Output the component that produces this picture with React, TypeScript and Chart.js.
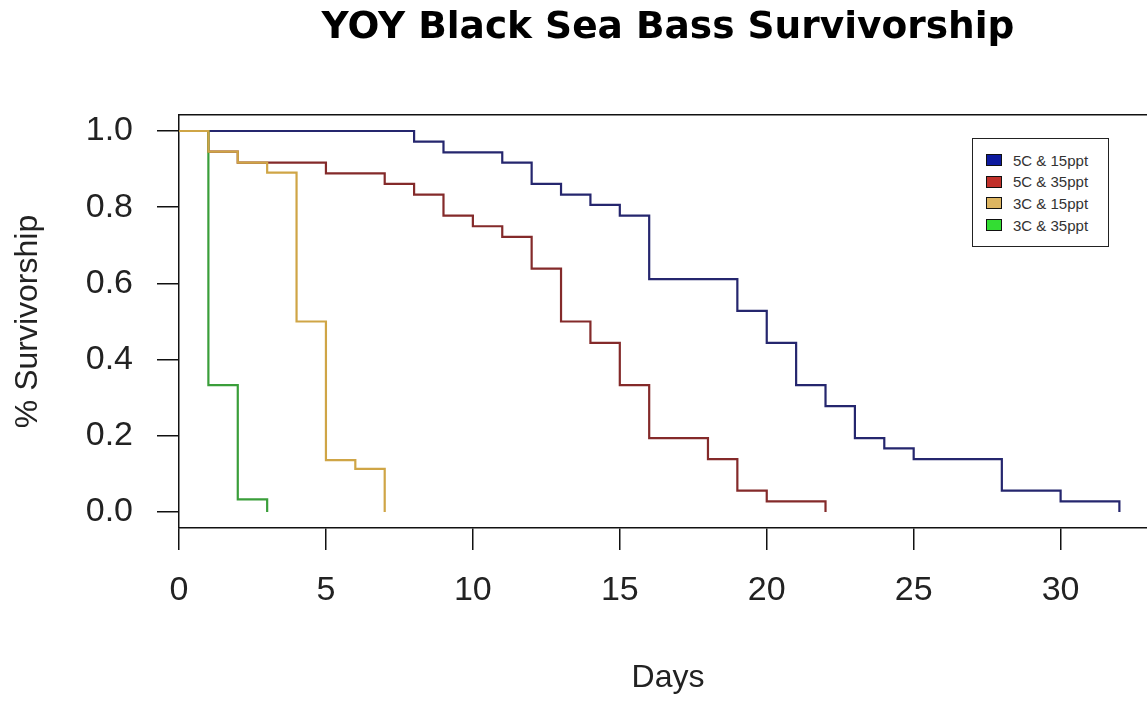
import React, { useEffect, useRef } from "react";
import { Chart, registerables } from "chart.js";

Chart.register(...registerables);

const TITLE = "YOY Black Sea Bass Survivorship";
const X_TITLE = "Days";
const Y_TITLE = "% Survivorship";

const SERIES_LABELS = ["5C & 15ppt", "5C & 35ppt", "3C & 15ppt", "3C & 35ppt"];
const LINE_COLORS = ["#25266e", "#842a2a", "#cfa546", "#3a9e3a"];
const KEY_COLORS = ["#0d1a9e", "#c0302a", "#ddb561", "#33dd33"];
const DRAW_ORDER = [2, 3, 0, 1];

const X_TICKS = [0, 5, 10, 15, 20, 25, 30];
const Y_TICKS = [0, 0.2, 0.4, 0.6, 0.8, 1.0];

// 5C & 15ppt
const DAYS_5C_15 = [0, 8, 9, 11, 12, 13, 14, 15, 16, 19, 20, 21, 22, 23, 24, 25, 28, 30, 32];
const SURV_5C_15 = [1.0, 0.972, 0.944, 0.917, 0.861, 0.833, 0.806, 0.778, 0.611, 0.528, 0.444, 0.333, 0.278, 0.194, 0.167, 0.139, 0.056, 0.028, 0.0];

// 5C & 35ppt
const DAYS_5C_35 = [0, 1, 2, 5, 7, 8, 9, 10, 11, 12, 13, 14, 15, 16, 18, 19, 20, 22];
const SURV_5C_35 = [1.0, 0.946, 0.917, 0.889, 0.861, 0.833, 0.778, 0.75, 0.722, 0.639, 0.5, 0.444, 0.333, 0.194, 0.139, 0.056, 0.028, 0.0];

// 3C & 15ppt
const DAYS_3C_15 = [0, 1, 2, 3, 4, 5, 6, 7];
const SURV_3C_15 = [1.0, 0.946, 0.917, 0.891, 0.5, 0.136, 0.113, 0.0];

// 3C & 35ppt
const DAYS_3C_35 = [0, 1, 2, 3];
const SURV_3C_35 = [1.0, 0.333, 0.033, 0.0];

const SERIES_DAYS = [DAYS_5C_15, DAYS_5C_35, DAYS_3C_15, DAYS_3C_35];
const SERIES_SURV = [SURV_5C_15, SURV_5C_35, SURV_3C_15, SURV_3C_35];

const X_MIN = 0;
const X_MAX = 33.28;
const Y_MIN = -0.042;
const Y_MAX = 1.042;

const FONT = "'Liberation Sans', Arial, sans-serif";

export default function App() {
  const canvasRef = useRef<HTMLCanvasElement | null>(null);

  useEffect(() => {
    const canvas = canvasRef.current;
    if (!canvas) return;
    const datasets = SERIES_LABELS.map((label, i) => ({
      label,
      data: SERIES_DAYS[i].map((d, j) => ({ x: d, y: SERIES_SURV[i][j] })),
      borderColor: LINE_COLORS[i],
      backgroundColor: LINE_COLORS[i],
      borderWidth: 2.2,
      pointRadius: 0,
      stepped: true,
      fill: false,
      order: DRAW_ORDER[i],
    }));

    const axisLine = { display: true, color: "#111", width: 1.5 };
    const tickGrid = {
      display: true,
      drawOnChartArea: false,
      drawTicks: true,
      tickLength: 22,
      color: "#111",
      lineWidth: 1.5,
    };

    const chart = new Chart(canvas, {
      type: "line",
      data: { datasets },
      options: {
        animation: false,
        responsive: false,
        devicePixelRatio: 1,
        layout: { padding: 0 },
        plugins: {
          legend: { display: false },
          tooltip: { enabled: false },
          title: {
            display: true,
            text: TITLE,
            fullSize: false,
            color: "#000",
            font: { family: "'DejaVu Sans', sans-serif", weight: "bold", size: 37.5, lineHeight: 1.2 },
            padding: { top: 6, bottom: 64 },
          },
        },
        scales: {
          x: {
            type: "linear",
            position: "bottom",
            min: X_MIN,
            max: X_MAX,
            afterBuildTicks: (s: any) => {
              s.ticks = X_TICKS.map((v) => ({ value: v }));
            },
            afterFit: (s: any) => {
              s.height = 174;
            },
            grid: tickGrid,
            border: axisLine,
            ticks: {
              color: "#222",
              font: { family: FONT, size: 34 },
              padding: 20,
              maxRotation: 0,
              autoSkip: false,
              callback: (v: any) => String(v),
            },
            title: {
              display: true,
              text: X_TITLE,
              color: "#222",
              font: { family: FONT, size: 32 },
              padding: { top: 0, bottom: 5 },
            },
          },
          xTop: {
            type: "linear",
            position: "top",
            min: X_MIN,
            max: X_MAX,
            grid: { display: false },
            ticks: { display: false },
            border: axisLine,
            afterFit: (s: any) => {
              s.height = 0;
            },
          },
          y: {
            type: "linear",
            position: "left",
            min: Y_MIN,
            max: Y_MAX,
            afterBuildTicks: (s: any) => {
              s.ticks = Y_TICKS.map((v) => ({ value: v }));
            },
            afterFit: (s: any) => {
              s.width = 179;
            },
            grid: tickGrid,
            border: axisLine,
            ticks: {
              color: "#222",
              font: { family: FONT, size: 34 },
              padding: 24,
              callback: (v: any) => Number(v).toFixed(1),
            },
            title: {
              display: true,
              text: Y_TITLE,
              color: "#222",
              font: { family: FONT, size: 32 },
              padding: { top: 9, bottom: 0 },
            },
          },
        },
      },
    } as any);

    return () => {
      chart.destroy();
    };
  }, []);

  return (
    <div
      style={{
        position: "fixed",
        left: 0,
        top: 0,
        width: 1147,
        height: 702,
        overflow: "hidden",
        background: "#fff",
      }}
    >
      <canvas ref={canvasRef} width={1157} height={702} style={{ display: "block" }} />
      <div
        style={{
          position: "absolute",
          left: 972,
          top: 138,
          width: 137,
          height: 109,
          border: "1.5px solid #222",
          background: "#fff",
          fontFamily: FONT,
          fontSize: 15,
          color: "#333",
          boxSizing: "border-box",
        }}
      >
        {SERIES_LABELS.map((label, i) => (
          <div
            key={label}
            style={{
              position: "absolute",
              left: 13,
              top: 10 + i * 21.7,
              height: 22,
              display: "flex",
              alignItems: "center",
              whiteSpace: "nowrap",
            }}
          >
            <span
              style={{
                display: "inline-block",
                width: 16,
                height: 12,
                boxSizing: "border-box",
                border: "1px solid #111",
                background: KEY_COLORS[i],
                marginRight: 11,
              }}
            />
            <span>{label}</span>
          </div>
        ))}
      </div>
    </div>
  );
}
